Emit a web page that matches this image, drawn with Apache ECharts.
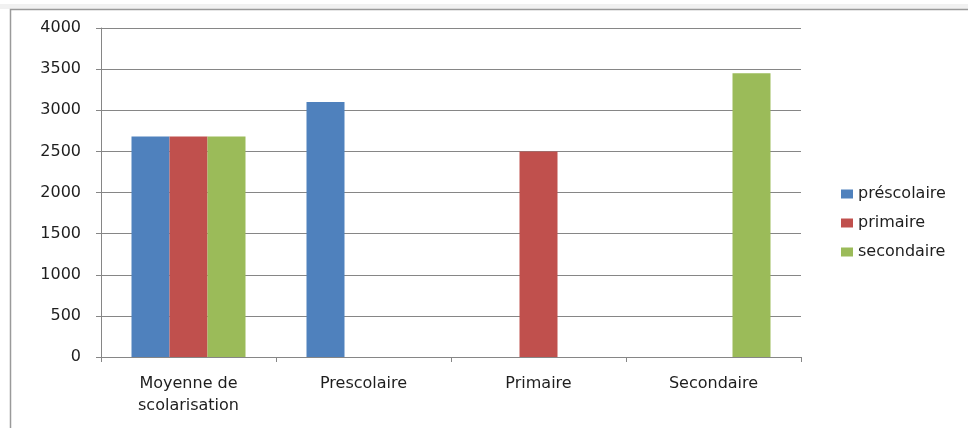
<!DOCTYPE html>
<html>
<head>
<meta charset="utf-8">
<script src="https://cdn.jsdelivr.net/npm/echarts@6/dist/echarts.min.js"></script>
<style>
  html, body { margin: 0; padding: 0; background: #ffffff; }
  #chart { width: 968px; height: 428px; }
</style>
</head>
<body>
<div id="chart"></div>
<script>
// Categories along the x axis
const categories = ['Moyenne de\nscolarisation', 'Prescolaire', 'Primaire', 'Secondaire'];
// Series values per category (null = no bar)
const prescolaire = [2680, 3100, null, null];
const primaire = [2680, null, 2500, null];
const secondaire = [2680, null, null, 3450];
const seriesNames = ['préscolaire', 'primaire', 'secondaire'];
const yTicks = { min: 0, max: 4000, interval: 500 };

const colors = ['#4f81bd', '#c0504d', '#9bbb59'];
const font = '"DejaVu Sans", "Open Sans", sans-serif';
const textColor = '#1e1e1e';

const chart = echarts.init(document.getElementById('chart'));
const values = [prescolaire, primaire, secondaire];

chart.setOption({
  animation: false,
  backgroundColor: '#ffffff',
  graphic: [
    {
      // soft shaded strip above the frame
      type: 'rect',
      shape: { x: 0, y: 4, width: 968, height: 5 },
      style: { fill: '#f1f1f1' },
      silent: true
    },
    {
      // chart frame
      type: 'rect',
      shape: { x: 10.5, y: 9.5, width: 980, height: 440 },
      style: { fill: 'none', stroke: '#9a9a9a', lineWidth: 1.5 },
      silent: true
    }
  ],
  grid: { left: 101, right: 167, top: 28, bottom: 71 },
  legend: {
    orient: 'vertical',
    left: 836,
    top: 181,
    itemWidth: 12,
    itemHeight: 9,
    itemGap: 13,
    icon: 'rect',
    textStyle: { fontFamily: font, fontSize: 16, color: textColor },
    data: seriesNames
  },
  xAxis: {
    type: 'category',
    data: categories,
    axisLine: { lineStyle: { color: '#868686', width: 1 } },
    axisTick: { show: true, length: 5, lineStyle: { color: '#868686' } },
    axisLabel: {
      fontFamily: font, fontSize: 16, color: textColor, margin: 16, lineHeight: 22
    }
  },
  yAxis: {
    type: 'value',
    min: yTicks.min,
    max: yTicks.max,
    interval: yTicks.interval,
    axisLine: { show: true, lineStyle: { color: '#868686', width: 1 } },
    axisTick: { show: true, length: 5, lineStyle: { color: '#868686' } },
    splitLine: { lineStyle: { color: '#868686', width: 1 } },
    axisLabel: {
      fontFamily: font, fontSize: 16, color: textColor, margin: 20,
      formatter: (v) => String(v)
    }
  },
  series: seriesNames.map((name, i) => ({
    name: name,
    type: 'bar',
    data: values[i],
    barWidth: 38,
    barGap: '0%',
    itemStyle: { color: colors[i] }
  }))
});
</script>
</body>
</html>
